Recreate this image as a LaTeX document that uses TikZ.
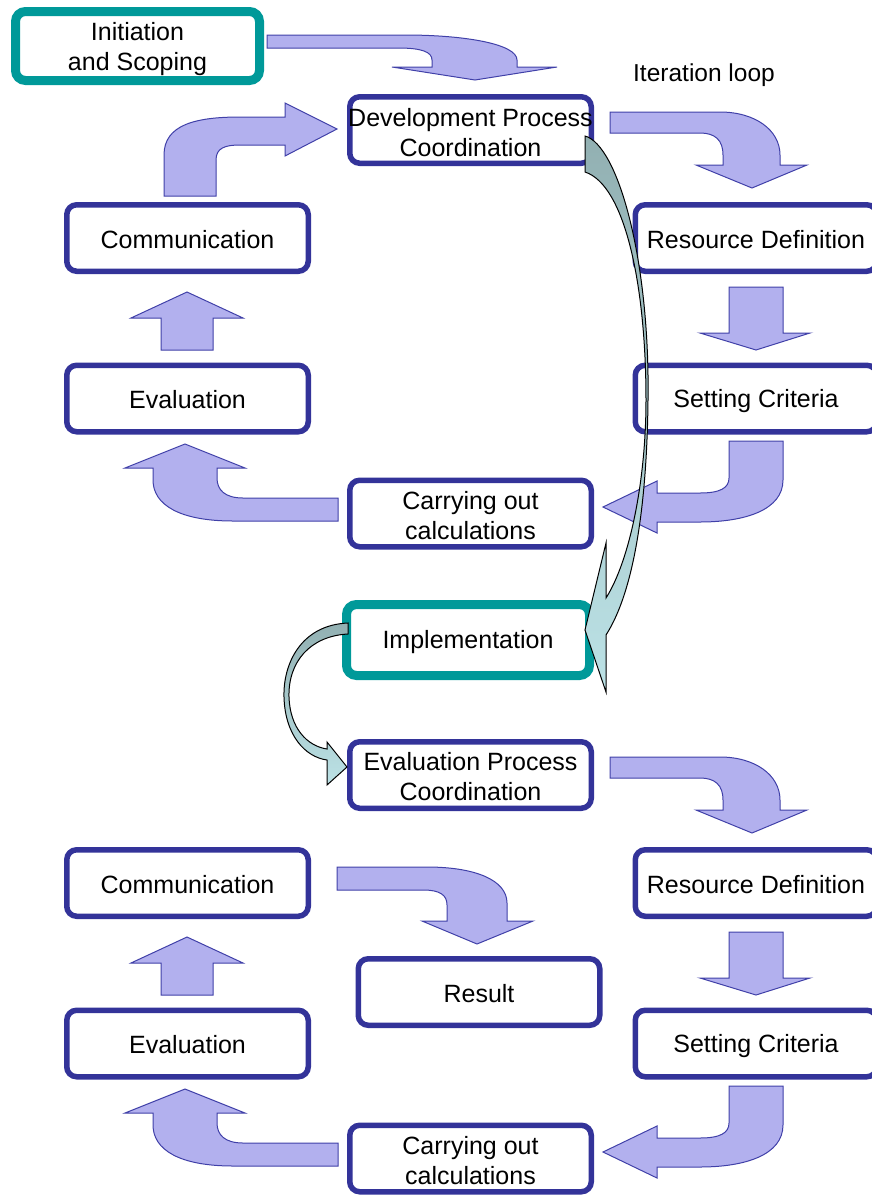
\documentclass[tikz,border=0pt]{standalone}
\usepackage{fontspec}
\setmainfont{Liberation Sans}
\definecolor{boxblue}{RGB}{51,51,153}
\definecolor{boxteal}{RGB}{0,153,153}
\definecolor{arrfill}{RGB}{178,176,238}
\definecolor{arrline}{RGB}{64,64,168}
\definecolor{ctop}{RGB}{146,176,178}
\definecolor{cbot}{RGB}{188,226,230}
\newcommand\drawLoopArrows{%
  % process coordination -> resource definition
  \draw[blockarrow] (610,112) -- (720,112) .. controls (755,112) and (780,130) .. (780,155)
    -- (780,165) -- (807,165) -- (752,188) -- (696,165) -- (723,165) -- (723,155)
    .. controls (723,140) and (715,133) .. (700,133) -- (610,133) -- cycle;
  % resource definition -> setting criteria
  \draw[blockarrow] (729,287) -- (783,287) -- (783,333) -- (810,333) -- (756,350)
    -- (700,333) -- (729,333) -- cycle;
  % setting criteria -> carrying out calculations
  \draw[blockarrow] (729,441) -- (783,441) -- (783,480) .. controls (783,510) and (745,522) .. (700,522)
    -- (657,522) -- (657,533) -- (603,507) -- (657,481) -- (657,493) -- (700,493)
    .. controls (720,493) and (729,488) .. (729,478) -- cycle;
  % carrying out calculations -> evaluation
  \draw[blockarrow] (338,498) -- (243,498) .. controls (225,498) and (217,490) .. (217,478)
    -- (217,468) -- (245,468) -- (185,444) -- (125,468) -- (153,468) -- (153,480)
    .. controls (153,505) and (180,521) .. (233,521) -- (338,521) -- cycle;
  % evaluation -> communication
  \draw[blockarrow] (161,350) -- (161,318) -- (131,318) -- (187,292) -- (243,318)
    -- (213,318) -- (213,350) -- cycle;
}
\begin{document}
\begin{tikzpicture}[x=1pt,y=-1pt,
  procbox/.style={draw=boxblue, line width=5.5pt, rounded corners=10pt, fill=white,
    minimum width=241.5pt, minimum height=66.5pt, inner sep=0pt},
  keybox/.style={procbox, draw=boxteal, line width=9pt},
  boxtext/.style={inner sep=0pt, align=center, font=\fontsize{25}{30}\selectfont},
  blockarrow/.style={fill=arrfill, draw=arrline, line width=1pt},
  curvarrow/.style={top color=ctop, bottom color=cbot, draw=black, line width=1pt}
]
\path[use as bounding box, clip] (0,0) rectangle (872,1195);

% boxes
\node[keybox, minimum width=244pt, minimum height=69pt] (init) at (137.5,46) {};
\node[procbox] (dev) at (470.5,130) {};
\node[procbox] (res1) at (756,238) {};
\node[procbox] (comm1) at (187.5,238) {};
\node[procbox] (eval1) at (187.5,398.5) {};
\node[procbox] (set1) at (756,398.5) {};
\node[procbox] (carry1) at (470.5,513.5) {};
\node[keybox, minimum width=243pt, minimum height=71pt] (impl) at (468,640) {};
\node[procbox] (evproc) at (470.5,775) {};
\node[procbox] (comm2) at (187.5,883) {};
\node[procbox] (res2) at (756,883) {};
\node[procbox] (result) at (479,992) {};
\node[procbox] (eval2) at (187.5,1043.5) {};
\node[procbox] (set2) at (756,1043.5) {};
\node[procbox] (carry2) at (470.5,1158.5) {};

% texts
\node[boxtext] (initT) at ([yshift=-3pt]init.center) {Initiation\\and Scoping};
\node[boxtext] (devT) at ([yshift=-2.5pt]dev.center) {Development Process\\Coordination};
\node[boxtext] (res1T) at ([yshift=-1.5pt]res1.center) {Resource Definition};
\node[boxtext] (comm1T) at ([yshift=-1.5pt]comm1.center) {Communication};
\node[boxtext] (eval1T) at ([yshift=-1.5pt]eval1.center) {Evaluation};
\node[boxtext] (set1T) at ([yshift=-2.5pt]set1.center) {Setting Criteria};
\node[boxtext] (carry1T) at ([yshift=-2pt]carry1.center) {Carrying out\\calculations};
\node[boxtext] (implT) at ([yshift=-2.5pt]impl.center) {Implementation};
\node[boxtext] (evprocT) at ([yshift=-2pt]evproc.center) {Evaluation Process\\Coordination};
\node[boxtext] (comm2T) at ([yshift=-1.5pt]comm2.center) {Communication};
\node[boxtext] (res2T) at ([yshift=-1.5pt]res2.center) {Resource Definition};
\node[boxtext] (resultT) at ([yshift=-1.5pt]result.center) {Result};
\node[boxtext] (eval2T) at ([yshift=-1.5pt]eval2.center) {Evaluation};
\node[boxtext] (set2T) at ([yshift=-2.5pt]set2.center) {Setting Criteria};
\node[boxtext] (carry2T) at ([yshift=-2pt]carry2.center) {Carrying out\\calculations};
\node[inner sep=0pt, font=\fontsize{24.5}{28}\selectfont] (iter) at (704,75) {Iteration loop};

% initiation -> development process coordination
\draw[blockarrow] (267,35) -- (405,35) .. controls (465,35) and (517,44) .. (517,60)
  -- (517,67) -- (557,67) -- (475,80) -- (392,67) -- (432,67) -- (432,60)
  .. controls (432,52) and (422,48) .. (398,48) -- (267,48) -- cycle;
% communication -> development process coordination
\draw[blockarrow] (164,196) -- (164,155) .. controls (164,125) and (195,117) .. (240,117)
  -- (285,117) -- (285,103) -- (337,129) -- (285,156) -- (285,145) -- (240,145)
  .. controls (225,145) and (216,148) .. (216,160) -- (216,196) -- cycle;

\drawLoopArrows
\begin{scope}[yshift=-645pt]
  \drawLoopArrows
\end{scope}

% communication -> result
\draw[blockarrow] (337,867) -- (427,867) .. controls (475,867) and (507,880) .. (507,903)
  -- (507,921) -- (533,921) -- (477,944) -- (422,921) -- (447,921) -- (447,905)
  .. controls (447,895) and (440,890) .. (423,890) -- (337,890) -- cycle;

% development process coordination -> implementation
\draw[curvarrow] (585,136) .. controls (618,145) and (650,260) .. (648,400)
  .. controls (647,500) and (635,590) .. (606,635) -- (606,692) -- (585,630)
  -- (606,543) -- (606,598) .. controls (630,560) and (646,480) .. (646,400)
  .. controls (646,285) and (625,185) .. (585,172) -- cycle;
% implementation -> evaluation process coordination
\draw[curvarrow] (348,623) .. controls (300,625) and (283,665) .. (284,697)
  .. controls (285,735) and (305,757) .. (327,760) -- (327,785) -- (347,767)
  -- (327,742) -- (327,749) .. controls (307,746) and (290,728) .. (289,697)
  .. controls (288,662) and (310,636) .. (348,634) -- cycle;
\end{tikzpicture}
\end{document}
